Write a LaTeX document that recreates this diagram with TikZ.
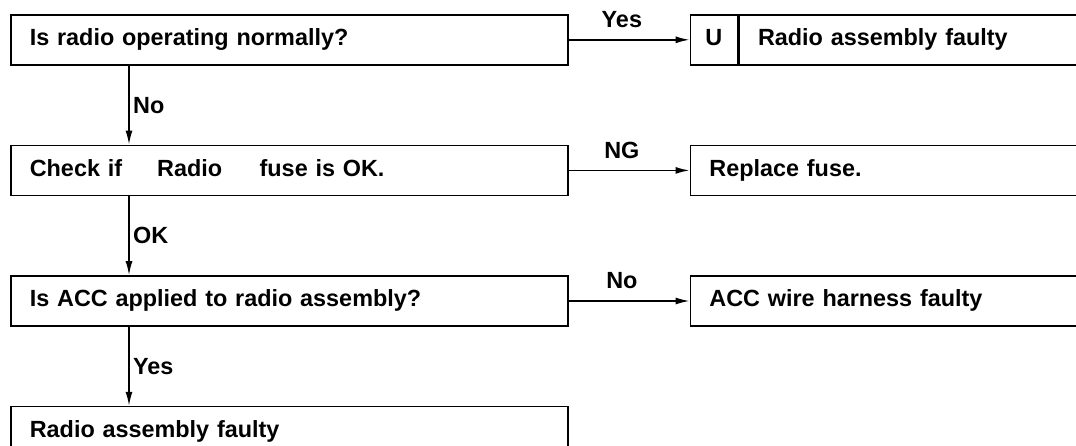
\documentclass[tikz,border=0pt]{standalone}
\usepackage{fontspec}
\setmainfont{Liberation Sans}
\usetikzlibrary{positioning,arrows.meta}

\begin{document}
\begin{tikzpicture}[
    font=\fontsize{23.4pt}{28pt}\selectfont\bfseries,
    node distance=79pt,
    box/.style={
        draw,
        line width=1.6pt,
        minimum width=557pt,
        minimum height=50pt,
        inner xsep=19pt,
        text width=519pt,
        text height=17pt,
        text depth=5pt,
        align=left
    },
    rbox/.style={
        box,
        minimum width=420pt,
        text width=382pt
    },
    ucell/.style={
        draw,
        line width=1.6pt,
        minimum width=47pt,
        minimum height=50pt,
        inner sep=0pt,
        text height=17pt,
        text depth=5pt
    },
    arrow/.style={
        -{Latex[length=14pt,width=7pt]},
        line width=1.6pt
    }
]
\useasboundingbox (0,0) rectangle (1076pt,-446pt);

\node[box, anchor=north west] (normal) at (10pt,-14pt)
{Is radio operating normally?};

\node[box, below=of normal] (fuse)
{Check if\hspace{1.5em}Radio\hspace{1.6em}fuse is OK.};

\node[box, below=of fuse] (acc)
{Is ACC applied to radio assembly?};

\node[box, below=of acc] (radiobad)
{Radio assembly faulty};

\node[ucell, right=121pt of normal] (u) {U};
\node[rbox, minimum width=373pt, text width=335pt, right=0pt of u] (assybad)
{Radio assembly faulty};

\node[rbox, right=121pt of fuse] (replace)
{Replace fuse.};

\node[rbox, right=121pt of acc] (harness)
{ACC wire harness faulty};

\draw[arrow] (normal) -- node[above=8pt, pos=.44] {Yes} (u);
\draw[arrow] (fuse) -- node[above=8pt, pos=.44] {NG} (replace);
\draw[arrow] (acc) -- node[above=8pt, pos=.44] {No} (harness);

\draw[arrow] ([xshift=119pt]normal.south west) -- node[right] {No} ([xshift=119pt]fuse.north west);
\draw[arrow] ([xshift=119pt]fuse.south west) -- node[right] {OK} ([xshift=119pt]acc.north west);
\draw[arrow] ([xshift=119pt]acc.south west) -- node[right] {Yes} ([xshift=119pt]radiobad.north west);

\end{tikzpicture}
\end{document}
